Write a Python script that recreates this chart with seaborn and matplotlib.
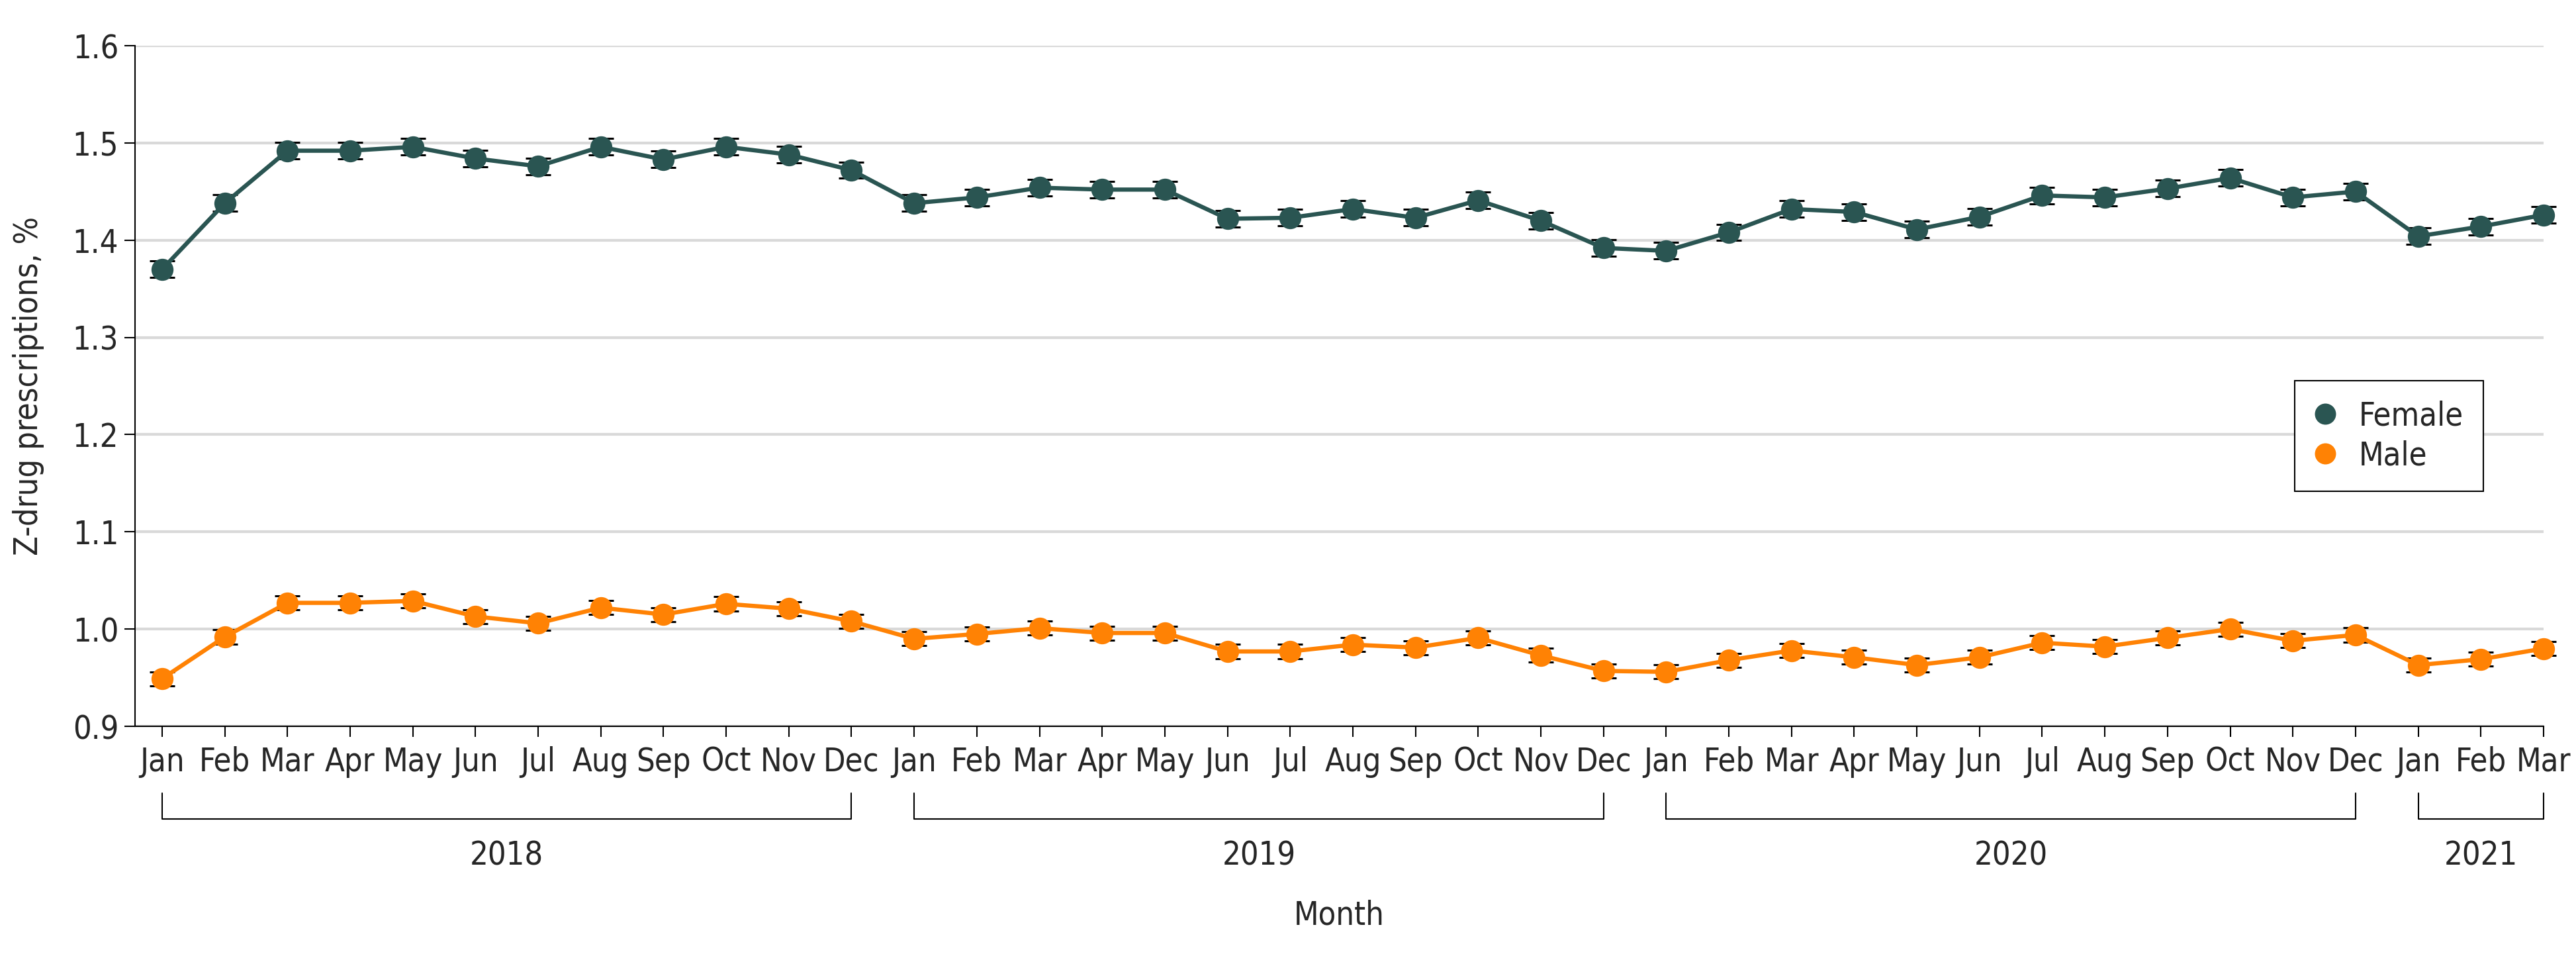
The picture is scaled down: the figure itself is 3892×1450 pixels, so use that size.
import matplotlib
matplotlib.use("Agg")
import matplotlib.pyplot as plt
import matplotlib.transforms as mtransforms
from matplotlib import font_manager
from matplotlib.lines import Line2D
import seaborn as sns
import pandas as pd
import numpy as np

# monthly Z-drug prescription share (%), Jan 2018 - Mar 2021
months = ["Jan", "Feb", "Mar", "Apr", "May", "Jun", "Jul", "Aug", "Sep", "Oct", "Nov", "Dec"]
month_labels = months * 3 + months[:3]
year_of_point = ["2018"] * 12 + ["2019"] * 12 + ["2020"] * 12 + ["2021"] * 3

female = [1.370, 1.438, 1.492, 1.492, 1.496, 1.484, 1.476, 1.496, 1.483, 1.496, 1.488, 1.472,
          1.438, 1.444, 1.454, 1.452, 1.452, 1.422, 1.423, 1.432, 1.423, 1.441, 1.420, 1.392,
          1.389, 1.408, 1.432, 1.429, 1.411, 1.424, 1.446, 1.444, 1.453, 1.464, 1.444, 1.450,
          1.404, 1.414, 1.426]
male = [0.949, 0.992, 1.027, 1.027, 1.029, 1.013, 1.006, 1.022, 1.015, 1.026, 1.021, 1.008,
        0.990, 0.995, 1.001, 0.996, 0.996, 0.977, 0.977, 0.984, 0.981, 0.991, 0.973, 0.957,
        0.956, 0.968, 0.978, 0.971, 0.963, 0.971, 0.986, 0.982, 0.991, 1.000, 0.988, 0.994,
        0.963, 0.969, 0.980]
# half width of the 95% CI
female_ci = 0.0085
male_ci = 0.0072

colors = {"Female": "#2A5552", "Male": "#FF8204"}

sns.set_style("ticks")
names = {f.name for f in font_manager.fontManager.ttflist}
if "Liberation Sans Narrow" in names:
    plt.rcParams["font.family"] = ["Liberation Sans Narrow", "DejaVu Sans"]
else:
    plt.rcParams["font.family"] = ["DejaVu Sans"]
    plt.rcParams["font.stretch"] = "condensed"
FS = 35

n = len(month_labels)
df = pd.DataFrame({
    "idx": list(range(n)) * 2,
    "pct": female + male,
    "sex": ["Female"] * n + ["Male"] * n,
})

fig = plt.figure(figsize=(38.92, 14.5), dpi=100)
ax = fig.add_axes([0.0523, 0.2434, 0.9351, 0.709])

for sex, vals, half in [("Female", female, female_ci), ("Male", male, male_ci)]:
    ax.errorbar(range(n), vals, yerr=half, fmt="none", ecolor="black",
                elinewidth=2, capsize=13.5, capthick=2.2, zorder=3, clip_on=False)

sns.lineplot(data=df, x="idx", y="pct", hue="sex", palette=colors, marker="o",
             markersize=24, markeredgewidth=0, linewidth=4.6, errorbar=None,
             legend=False, ax=ax, zorder=4, clip_on=False)

ax.set_xlim(-0.437, n - 1)
ax.set_ylim(0.9, 1.6)
yt = np.round(np.arange(0.9, 1.61, 0.1), 1)
ax.set_yticks(yt)
ax.set_yticklabels([f"{v:.1f}" for v in yt])
ax.set_xticks(range(n))
ax.set_xticklabels(month_labels)
ax.tick_params(axis="both", labelsize=FS, length=11.5, width=1.5, color="black")
ax.tick_params(axis="x", pad=10)
ax.tick_params(axis="y", pad=6)
ax.yaxis.grid(True, color="#D9D9D9", linewidth=3)
ax.set_axisbelow(True)
sns.despine(ax=ax)
for s in ["left", "bottom"]:
    ax.spines[s].set_linewidth(1.5)
    ax.spines[s].set_color("black")

ax.set_xlabel("")
ax.set_ylabel("Z-drug prescriptions, %", fontsize=FS)
ax.yaxis.set_label_coords(-0.0375, 0.5)

# year brackets under the month labels
trans = mtransforms.blended_transform_factory(ax.transData, ax.transAxes)
pos = pd.DataFrame({"year": year_of_point, "idx": range(n)}).groupby("year")["idx"].agg(["min", "max"])
for year, row in pos.iterrows():
    s, e = row["min"], row["max"]
    ax.plot([s, s, e, e], [-0.0978, -0.1359, -0.1359, -0.0978], transform=trans,
            color="black", lw=1.5, clip_on=False)
    ax.text((s + e) / 2, -0.1905, year, transform=trans, ha="center", va="center", fontsize=FS)

ax.text(0.5, -0.278, "Month", transform=ax.transAxes, ha="center", va="center", fontsize=FS)

handles = [Line2D([], [], marker="o", linestyle="none", color=colors[k], markersize=23,
                  markeredgewidth=0, label=k) for k in ["Female", "Male"]]
leg = ax.legend(handles=handles, loc="upper left", bbox_to_anchor=(0.8908, 0.6034),
                bbox_transform=fig.transFigure, borderaxespad=0, fontsize=FS,
                frameon=True, fancybox=False, edgecolor="black", framealpha=1,
                borderpad=0.6, labelspacing=0.25, handlelength=0.7, handletextpad=0.7)
leg.get_frame().set_linewidth(1.5)

fig.savefig("out.png", dpi=100, facecolor="white")
